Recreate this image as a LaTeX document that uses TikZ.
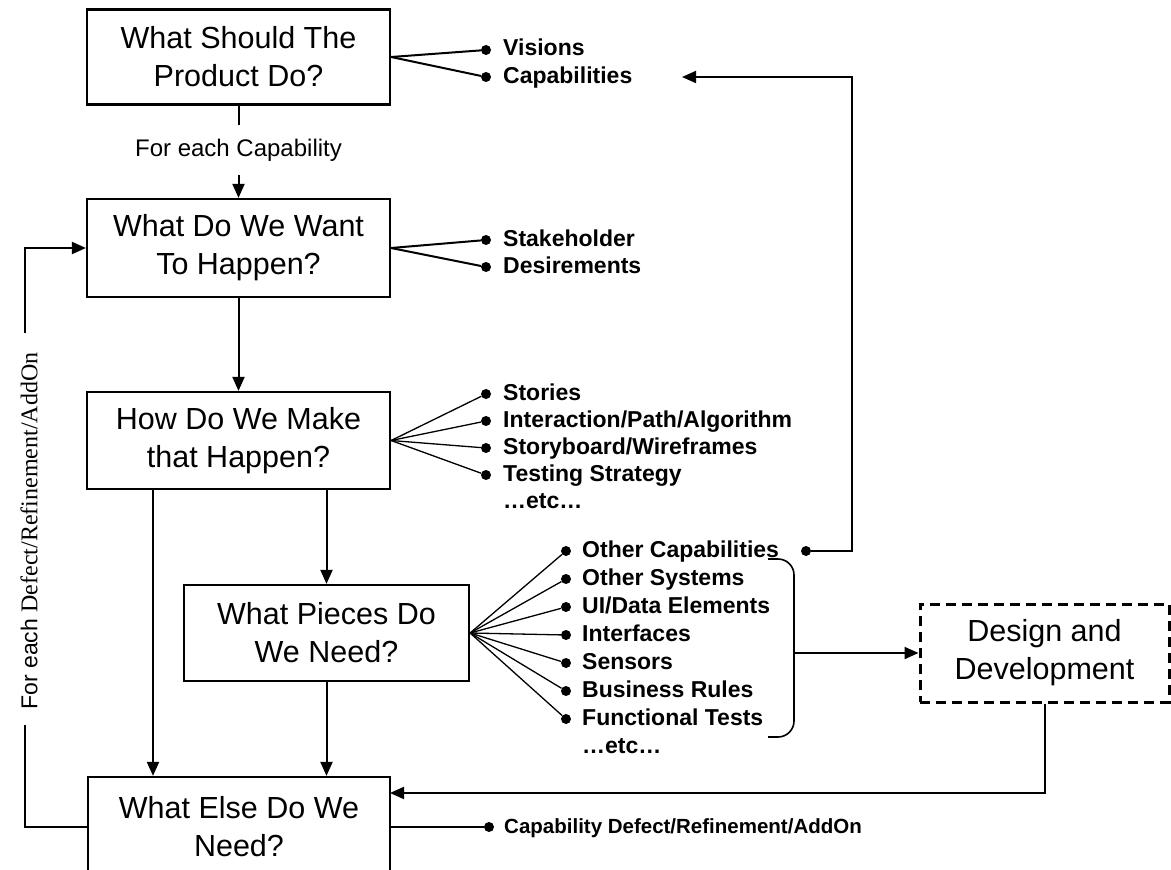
\documentclass[tikz,border=0pt]{standalone}
\usepackage{fontspec}
\setmainfont{Liberation Sans}
\newfontfamily\serifface{Liberation Serif}
\usetikzlibrary{arrows.meta}
\begin{document}
\begin{tikzpicture}[x=1pt,y=-1pt,
  qbox/.style={draw, line width=2.2pt, inner sep=0pt, align=center,
    minimum width=303pt, minimum height=95pt,
    font=\fontsize{30.5}{38}\selectfont},
  dashbox/.style={qbox, line width=3pt, dash pattern=on 10pt off 6pt,
    minimum width=249pt, minimum height=98pt},
  dot/.style={circle, fill, inner sep=0pt, minimum size=10pt},
  item/.style={anchor=west, inner sep=0pt, text height=17pt, text depth=5pt,
    font=\fontsize{23}{26}\selectfont\bfseries},
  fan/.style={line width=2pt},
  thinfan/.style={line width=1.3pt},
  link/.style={line width=2pt},
  arr/.style={link, -{Triangle[length=14pt,width=12pt]}}
]
\clip (0,0) rectangle (1171,870);

% question boxes
\node[qbox] (b1) at (238.5,57) {What Should The\\Product Do?};
\node[qbox, minimum height=98pt] (b2) at (238.5,248) {What Do We Want\\To Happen?};
\node[qbox, minimum height=97pt] (b3) at (238.5,440.5) {How Do We Make\\that Happen?};
\node[qbox, minimum width=285pt, minimum height=96pt] (b4) at (326.5,633) {What Pieces Do\\We Need?};
\node[qbox, minimum width=302pt, minimum height=100pt] (b5) at (239,827) {What Else Do We\\Need?};
\node[dashbox] (dd) at (1044.5,653) {Design and\\Development};

% per-capability step
\node[inner sep=0pt, minimum height=50pt, font=\fontsize{24}{26}\selectfont] (fec) at (238.5,150) {For each Capability};
\draw[link] (b1.south) -- (fec.north);
\draw[arr] (fec.south) -- (b2.north);

% main flow
\draw[arr] (b2.south) -- (b3.north);
\draw[arr] (b3.south -| b4.north) -- (b4.north);
\coordinate (skipX) at (153,0);
\draw[arr] (b3.south -| skipX) -- (b5.north -| skipX);
\draw[arr] (b4.south) -- (b4.south |- b5.north);

% outputs of box 1
\node[dot] (v1) at (486,50) {};
\node[dot] (v2) at (486,77) {};
\node[item] (t11) at (503,50) {Visions};
\node[item] (t12) at (503,77) {Capabilities};
\draw[fan] (b1.east) -- (v1);
\draw[fan] (b1.east) -- (v2);

% outputs of box 2
\node[dot] (w1) at (486,240) {};
\node[dot] (w2) at (486,267) {};
\node[item] (t21) at (503,240) {Stakeholder};
\node[item] (t22) at (503,267) {Desirements};
\draw[fan] (b2.east) -- (w1);
\draw[fan] (b2.east) -- (w2);

% outputs of box 3
\node[dot] (h1) at (486,394) {};
\node[dot] (h2) at (486,421) {};
\node[dot] (h3) at (486,448) {};
\node[dot] (h4) at (486,475) {};
\node[item] (t31) at (503,394) {Stories};
\node[item] (t32) at (503,421) {Interaction/Path/Algorithm};
\node[item] (t33) at (503,448) {Storyboard/Wireframes};
\node[item] (t34) at (503,475) {Testing Strategy};
\node[item] (t35) at (503,502) {…etc…};
\foreach \d in {h1,h2,h3,h4} \draw[thinfan] (b3.east) -- (\d);

% outputs of box 4
\foreach \n/\y/\t in {1/551/{Other Capabilities}, 2/579/{Other Systems},
    3/607/{UI/Data Elements}, 4/635/{Interfaces}, 5/663/{Sensors},
    6/691/{Business Rules}, 7/719/{Functional Tests}} {
  \node[dot] (p\n) at (566,\y) {};
  \node[item] (t4\n) at (582,\y) {\t};
  \draw[thinfan] (b4.east) -- (p\n);
}
\node[item] (t48) at (582,747) {…etc…};

% bracket grouping the pieces
\draw[line width=1.6pt, rounded corners=16pt] (768,559) -- (794,559) -- (794,737) -- (768,737);
\coordinate (bmid) at (794,653);
\draw[arr] (bmid) -- (dd.west);

% other capabilities loop back to the top
\node[dot] (ocd) at (806,551) {};
\coordinate (loopX) at (852,0);
\coordinate (capTip) at (682,77);
\draw[arr] (ocd) -- (ocd -| loopX) -- (loopX |- capTip) -- (capTip);

% design and development feeds back
\coordinate (retIn) at (390,793);
\draw[arr] (dd.south) |- (retIn);

% box 5 output
\node[dot] (cd) at (489,827) {};
\node[item, font=\fontsize{20.5}{24}\selectfont\bfseries] (t51) at (504,827) {Capability Defect/Refinement/AddOn};
\draw[link] (b5.east) -- (cd);

% feedback loop on the left
\coordinate (fbLow) at (25,725);
\coordinate (fbHigh) at (25,333);
\node[rotate=90, inner sep=0pt] (fbl) at (29,531)
  {{\fontsize{23}{26}\selectfont For each }{\serifface\fontsize{24}{28}\selectfont Defect/Refinement/AddOn}};
\draw[link] (b5.west) -| (fbLow);
\draw[arr] (fbHigh) |- (b2.west);
\end{tikzpicture}
\end{document}
